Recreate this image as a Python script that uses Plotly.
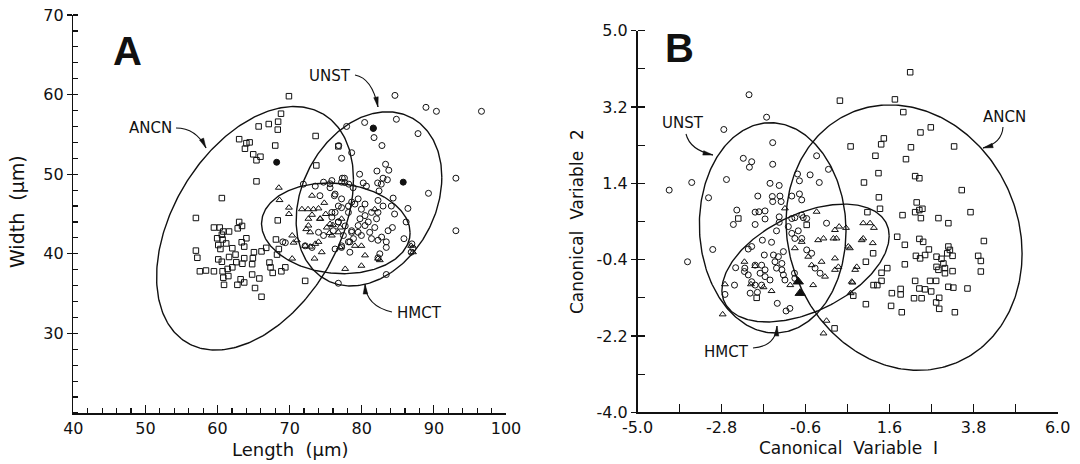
import numpy as np
import plotly.graph_objects as go

W, H = 1080, 464

# ---------------- Panel A : Length vs Width ----------------
A_ancn_x = [69.9, 68.8, 68.4, 68.35, 67.1, 65.7, 63.0, 64.0, 64.45, 63.8, 64.95, 65.95, 65.4, 68.0,
            65.4, 73.6, 73.7, 60.6, 57.0, 59.5, 60.3, 63.0, 63.4, 62.8, 61.6, 60.8, 60.6, 59.95,
            60.7, 61.2, 60.1, 62.05, 60.4, 63.35, 64.0, 63.7, 57.0, 57.2, 60.1, 60.6, 61.6, 62.5,
            62.6, 63.7, 63.45, 65.05, 64.9, 64.8, 66.1, 66.75, 62.05, 61.4, 60.7, 59.5, 58.4, 57.55,
            60.8, 61.5, 60.9, 62.75, 63.2, 63.7, 64.8, 65.8, 65.2, 66.1, 67.2, 67.35, 67.65, 68.85,
            69.4, 68.25, 68.5, 68.1, 68.35, 72.15, 76.75]
A_ancn_y = [59.8, 57.6, 56.6, 55.6, 56.3, 56.0, 54.4, 53.9, 54.0, 53.2, 52.5, 52.2, 51.75, 53.6,
            49.1, 54.8, 51.1, 47.0, 44.5, 43.3, 43.3, 44.0, 43.5, 43.2, 42.8, 42.8, 42.4, 41.95,
            41.8, 41.3, 41.1, 40.7, 40.6, 41.45, 41.95, 40.9, 40.4, 39.5, 39.3, 39.0, 39.6, 39.9,
            38.95, 39.45, 38.75, 40.2, 39.45, 38.7, 40.3, 40.75, 38.3, 38.1, 37.8, 37.8, 37.9, 37.8,
            37.0, 37.2, 36.1, 36.1, 36.8, 36.4, 37.4, 36.9, 35.7, 34.6, 38.9, 38.3, 37.6, 37.8,
            38.3, 39.9, 40.6, 41.8, 44.2, 36.6, 53.5]

A_unst_x = [84.6, 88.9, 90.35, 84.8, 80.4, 81.6, 81.7, 77.9, 87.8, 82.8, 76.8, 78.6, 77.2, 83.3,
            83.75, 82.1, 79.7, 93.05, 82.95, 83.55, 82.2, 82.7, 89.25, 82.4, 80.2, 80.65, 77.6,
            77.2, 75.6, 78.2, 84.35, 76.2, 96.6, 93.05,
            86.4, 84.55, 84.1, 86.15, 85.85, 84.25, 83.65, 83.4, 83.4, 82.75, 82.25, 82.5, 82.25,
            86.95, 87.1, 86.85, 83.4, 76.75, 81.35, 81.1, 81.8, 80.9, 82.05, 82.25, 81.35, 80.45,
            79.95, 79.05, 78.15, 77.2, 76.3, 75.85, 76.75, 77.7, 78.6, 79.5, 78.85, 78.15, 77.2,
            76.3, 78.35, 79.95, 80.45, 79.75, 82.95, 82.25,
            71.9, 73.55, 74.7, 75.85, 77.3, 77.65, 78.8, 75.6, 74.2, 76.3, 77.2, 76.75, 75.85,
            78.6, 79.5, 80.45, 78.15, 76.75, 76.05, 77.45, 78.6, 79.5, 78.35, 77.2, 74.7, 73.1,
            72.15, 74.0, 69.05, 69.4]
A_unst_y = [59.9, 58.4, 57.9, 56.9, 56.5, 55.8, 54.6, 56.0, 55.1, 53.6, 53.6, 52.7, 52.0, 51.25,
            50.5, 50.4, 50.0, 49.5, 49.5, 49.3, 48.9, 48.75, 47.6, 47.9, 48.9, 48.5, 49.5,
            49.0, 48.8, 48.75, 47.0, 47.3, 57.9, 42.9,
            45.7, 45.0, 46.0, 44.0, 41.9, 43.3, 42.9, 41.5, 40.8, 42.1, 41.7, 40.0, 39.5,
            41.25, 40.7, 40.2, 37.4, 36.3, 41.9, 42.7, 43.3, 44.0, 44.4, 45.2, 45.2, 44.8,
            45.6, 46.25, 46.0, 45.8, 45.2, 44.6, 44.0, 43.5, 42.9, 42.7, 41.9, 41.5, 40.8,
            40.6, 40.2, 42.3, 43.55, 44.4, 46.0, 46.7,
            48.75, 48.5, 49.0, 49.2, 49.5, 48.95, 48.3, 48.3, 47.3, 47.5, 46.9, 46.0, 45.2,
            46.5, 46.9, 46.25, 45.2, 44.0, 42.9, 42.3, 42.7, 43.55, 41.5, 41.0, 42.3, 40.8,
            41.0, 42.7, 41.5, 41.4]

A_hmct_x = [68.5, 68.6, 69.9, 69.9, 71.7, 72.55, 73.3, 74.0, 73.1, 72.6, 74.25, 72.3, 72.85, 70.35,
            71.0, 70.55, 72.15, 72.85, 73.55, 74.45, 73.45, 70.35, 79.95, 80.45, 81.8, 77.7,
            79.95, 82.5, 77.0, 75.85, 76.75, 77.2, 73.1, 74.2, 75.6, 75.15, 72.6, 74.0, 77.0,
            79.05, 82.25, 86.85, 87.1, 75.0, 76.0, 74.8, 75.5]
A_hmct_y = [48.3, 46.75, 45.8, 45.0, 45.6, 45.6, 45.6, 45.7, 44.9, 44.4, 44.4, 43.1, 42.7, 42.3,
            41.7, 41.4, 41.0, 40.9, 41.25, 40.2, 39.4, 39.4, 41.0, 39.8, 45.6, 38.1,
            38.5, 39.2, 40.8, 42.3, 42.7, 44.4, 47.3, 44.4, 43.75, 43.3, 43.55, 41.5, 43.3,
            41.0, 39.4, 41.0, 40.2, 45.0, 43.6, 46.4, 42.6]

A_dot_x = [68.2, 81.6, 85.75]
A_dot_y = [51.5, 55.75, 49.0]

# ellipses: centre x, centre y, x half-extent, y half-extent, correlation
A_ell_names = ["ANCN", "UNST", "HMCT"]
A_ell_cx = [65.2, 81.0, 76.4]
A_ell_cy = [43.2, 46.9, 43.2]
A_ell_sx = [13.65, 10.1, 10.3]
A_ell_sy = [15.3, 10.94, 5.7]
A_ell_r = [0.40, 0.25, -0.10]

A_xticks = [40, 50, 60, 70, 80, 90, 100]
A_xticktext = ["40", "50", "60", "70", "80", "90", "100"]
A_yticks = [30, 40, 50, 60, 70]
A_yticktext = ["30", "40", "50", "60", "70"]

# ---------------- Panel B : canonical variables ----------------
B_unst_x = [-2.08, -1.62, -2.74, -1.46, -2.23, -2.01, -2.07, -1.46, -0.31, 0.0, -0.48, -0.81, -0.76,
            -0.24, -2.67, -3.58, -4.17, -3.14, -1.53, -1.29, -1.85, -1.47, -1.27, -0.96, -0.76,
            -1.46, -1.24, -0.70, -3.69, -3.03,
            -2.40, -1.92, -1.82, -1.66, -2.49, -1.92, -1.66, -1.29, -1.29, -0.96, -0.88, -0.66,
            -0.57, -1.36, -1.05, -0.96, -0.79, -0.70, -0.88, -1.73, -2.01, -2.10, -1.49, -2.43,
            -2.46, -2.71, -2.05, -1.86, -1.34, -1.11, -1.01, -1.44, -1.31, -1.18, -1.40, -1.36,
            -1.22, -1.18, -1.14, -1.22, -1.92, -1.75, -1.66, -1.79, -1.66, -2.19, -2.20, -2.10,
            -1.92, -1.75, -2.01, -1.53, -1.68, -0.88, -0.89, -0.05, -0.44, -0.35, -0.22, -0.57,
            -0.70]
B_unst_y = [3.49, 2.96, 2.67, 2.36, 1.99, 1.91, 1.78, 1.85, 2.05, 1.73, 1.60, 1.62, 1.46,
            1.42, 1.49, 1.42, 1.24, 1.06, 1.40, 1.35, 1.10, 1.09, 1.10, 1.10, 1.15,
            0.97, 0.97, 1.01, -0.45, -0.16,
            0.77, 0.72, 0.73, 0.75, 0.43, 0.43, 0.56, 0.61, 0.48, 0.57, 0.59, 0.59,
            0.57, 0.28, 0.38, 0.22, 0.28, 0.10, 0.10, 0.06, -0.09, -0.15, 0.01, -0.59,
            -1.00, -1.22, -1.19, -1.17, -1.43, -1.61, -1.55, -0.29, -0.33, -0.21, -0.45, -0.60,
            -0.64, -0.76, -0.88, -0.49, -0.53, -0.53, -0.64, -0.72, -0.80, -0.60, -0.68, -0.76,
            -1.00, -1.00, -0.92, -0.88, -0.29, -0.84, -0.72, 0.46, -0.25, -0.60, -0.72, -0.17,
            0.65]

B_ancn_x = [2.14, 1.74, 0.30, 1.96, 2.41, 2.68, 1.45, 1.38, 0.58, 2.16, 3.29, 1.23, 2.03, 1.31,
            2.27, 2.38, 0.93, 3.49, 1.32, 2.31,
            1.35, 1.02, 1.94, 2.27, 2.38, 2.46, 2.42, 2.88, 3.14, 3.72, 1.80, 2.00, 2.38, 2.48,
            2.63, 2.53, 2.29, 2.40, 2.83, 2.96, 3.14, 3.18, 3.11, 3.25, 4.07, 3.92, 3.99, 3.99,
            2.00, 2.83, 2.88, 3.01, 3.05, 3.05, 3.25, 2.27, 2.66, 2.82, 3.14, 3.27, 3.64, 2.38,
            2.53, 2.69, 1.89, 1.66, 1.89, 2.24, 2.44, 2.90, 2.82, 2.90, 3.31, 1.92, 1.64, 0.98,
            1.17, 0.98, 1.39, 1.54, 1.39, 1.18, 1.28, 0.65, 0.16, -2.36, -0.57, -1.88]
B_ancn_y = [4.02, 3.38, 3.35, 3.08, 2.60, 2.72, 2.46, 2.32, 2.27, 2.25, 2.27, 2.05, 1.97, 1.64,
            1.57, 1.52, 1.42, 1.24, 1.07, 0.95,
            0.80, 0.72, 0.65, 0.72, 0.77, 0.80, 0.58, 0.58, 0.46, 0.72, 0.14, -0.05, 0.09, 0.02,
            -0.16, -0.29, -0.31, -0.37, -0.33, -0.38, -0.09, -0.17, -0.25, -0.31, 0.04, -0.31, -0.43, -0.68,
            -0.51, -0.57, -0.64, -0.49, -0.60, -0.72, -0.67, -0.90, -0.90, -0.90, -1.04, -1.06, -1.08, -1.08,
            -1.10, -1.15, -1.09, -1.19, -1.22, -1.31, -1.31, -1.30, -1.41, -1.56, -1.64, -1.64, -1.49, -1.45,
            -0.25, -0.45, -0.71, -0.60, -0.90, -1.00, -1.00, -1.25, -2.02, 0.57, 0.42, -1.30]

B_hmct_x = [-2.77, -2.71, -1.92, -2.03, -1.49, -1.14, -0.31, -0.27, -0.13, -0.70, -0.88, -0.13,
            -0.44, -0.40, -0.09, -0.18, -0.53, 0.91, 1.09, 1.19, 1.16, 0.91, 0.87, 0.56, 0.74,
            0.70, 0.63, 0.58, 0.28, 0.46, 0.17, 0.13, 0.21, 0.17, 0.26, 0.17, 0.52, -0.05, 0.61,
            -2.20, -1.70, -1.00]
B_hmct_y = [-1.69, -0.98, -0.55, -0.98, -1.14, 0.81, 0.73, 0.06, 0.10, 0.02, -0.13, -2.14,
            -0.53, -1.00, -0.80, -0.45, -0.33, 0.46, 0.46, 0.35, -0.01, 0.10, 0.06, -0.13, -0.57,
            -0.64, -0.94, -1.19, 0.38, 0.35, 0.30, 0.10, 0.10, -0.37, -0.57, -0.64, -0.09, -1.84, -0.92,
            -0.45, -1.05, -1.00]

B_big_x = [-0.79, -0.74]
B_big_y = [-0.92, -1.19]

B_ell_names = ["ANCN", "UNST", "HMCT"]
B_ell_cx = [1.98, -1.46, -0.60]
B_ell_cy = [0.12, 0.35, -0.48]
B_ell_sx = [3.09, 1.92, 2.19]
B_ell_sy = [3.13, 2.48, 1.39]
B_ell_r = [-0.12, -0.03, 0.46]

B_xticks = [-5.0, -2.8, -0.6, 1.6, 3.8, 6.0]
B_xticktext = ["-5.0", "-2.8", "-0.6", "1.6", "3.8", "6.0"]
B_yticks = [-4.0, -2.2, -0.4, 1.4, 3.2, 5.0]
B_yticktext = ["-4.0", "-2.2", "-0.4", "1.4", "3.2", "5.0"]

INK = "#111111"
FONT = "DejaVu Sans"


def ellipse(cx, cy, sx, sy, r, n=300):
    t = np.linspace(0, 2 * np.pi, n)
    x = cx + sx * np.cos(t)
    y = cy + sy * (r * np.cos(t) + np.sqrt(1 - r * r) * np.sin(t))
    return x, y


fig = go.Figure()


def pts(x, y, sym, size, xa, ya, lw=1.0, color=INK):
    fig.add_trace(go.Scatter(x=x, y=y, mode="markers", xaxis=xa, yaxis=ya,
                             marker=dict(symbol=sym, size=size, color=color,
                                         line=dict(width=lw, color=INK)),
                             showlegend=False, hoverinfo="skip"))


pts(A_ancn_x, A_ancn_y, "square-open", 5.5, "x", "y")
pts(A_unst_x, A_unst_y, "circle-open", 6, "x", "y")
pts(A_hmct_x, A_hmct_y, "triangle-up-open", 6, "x", "y")
pts(A_dot_x, A_dot_y, "circle", 6, "x", "y")

pts(B_ancn_x, B_ancn_y, "square-open", 5.5, "x2", "y2")
pts(B_unst_x, B_unst_y, "circle-open", 6, "x2", "y2")
pts(B_hmct_x, B_hmct_y, "triangle-up-open", 6, "x2", "y2")
pts(B_big_x, B_big_y, "triangle-up", 9, "x2", "y2")

for i in range(3):
    ex, ey = ellipse(A_ell_cx[i], A_ell_cy[i], A_ell_sx[i], A_ell_sy[i], A_ell_r[i])
    fig.add_trace(go.Scatter(x=ex, y=ey, mode="lines", xaxis="x", yaxis="y",
                             line=dict(color=INK, width=1.4), showlegend=False, hoverinfo="skip"))
    ex, ey = ellipse(B_ell_cx[i], B_ell_cy[i], B_ell_sx[i], B_ell_sy[i], B_ell_r[i])
    fig.add_trace(go.Scatter(x=ex, y=ey, mode="lines", xaxis="x2", yaxis="y2",
                             line=dict(color=INK, width=1.4), showlegend=False, hoverinfo="skip"))


def px(v):
    return v / W


def py(v):
    return 1 - v / H


tickfont = dict(family=FONT, size=16, color=INK)
common = dict(showline=True, linecolor=INK, linewidth=1.5, showgrid=False, zeroline=False,
              tickcolor=INK, tickwidth=1.2, tickfont=tickfont, automargin=False, fixedrange=True)

fig.update_layout(
    width=W, height=H, autosize=False,
    margin=dict(l=0, r=0, t=0, b=0, pad=0),
    paper_bgcolor="white", plot_bgcolor="white",
    xaxis=dict(domain=[px(73.3), px(506)], range=[40, 100], anchor="y",
               tickmode="array", tickvals=A_xticks, ticktext=A_xticktext,
               ticks="inside", ticklen=8,
               minor=dict(dtick=2, tick0=40, ticks="inside", ticklen=5, tickcolor=INK, showgrid=False),
               **common),
    yaxis=dict(domain=[py(413), py(15)], range=[20, 70], anchor="x",
               tickmode="array", tickvals=A_yticks, ticktext=A_yticktext,
               ticks="outside", ticklen=5,
               minor=dict(dtick=2, tick0=20, ticks="inside", ticklen=5, tickcolor=INK, showgrid=False),
               **common),
    xaxis2=dict(domain=[px(637.5), px(1057.6)], range=[-5, 6], anchor="y2",
                tickmode="array", tickvals=B_xticks, ticktext=B_xticktext,
                ticks="inside", ticklen=8,
                minor=dict(dtick=1.1, tick0=-5, ticks="inside", ticklen=8, tickcolor=INK, showgrid=False),
                **common),
    yaxis2=dict(domain=[py(412.3), py(30.7)], range=[-4, 5], anchor="x2",
                tickmode="array", tickvals=B_yticks, ticktext=B_yticktext,
                ticks="outside", ticklen=5,
                minor=dict(dtick=0.9, tick0=-4, ticks="inside", ticklen=7, tickcolor=INK, showgrid=False),
                **common),
)


def text(x, y, s, size=16, angle=0, family=FONT):
    fig.add_annotation(x=px(x), y=py(y), xref="paper", yref="paper", text=s, showarrow=False,
                       textangle=angle, xanchor="center", yanchor="middle",
                       font=dict(family=family, size=size, color=INK))


# axis titles
text(290, 449, "Length\u00a0 (\u03bcm)", 18)
text(17, 212, "Width\u00a0 (\u03bcm)", 19, angle=-90)
text(848, 448, "Canonical\u00a0 Variable\u00a0 I", 17)
text(577, 222, "Canonical\u00a0 Variable\u00a0 2", 17, angle=-90)

# panel letters
text(127, 51, "<b>A</b>", 40, family="Liberation Sans")
text(679, 48, "<b>B</b>", 40, family="Liberation Sans")

# group labels
text(150, 128, "ANCN", 15)
text(330, 76, "UNST", 15)
text(419, 313, "HMCT", 15)
text(683, 123, "UNST", 15)
text(1004, 117, "ANCN", 15)
text(726, 352, "HMCT", 15)


def leader(p0, c, p1):
    path = "M {} {} Q {} {} {} {}".format(px(p0[0]), py(p0[1]), px(c[0]), py(c[1]),
                                          px(p1[0]), py(p1[1]))
    fig.add_shape(type="path", path=path, xref="paper", yref="paper",
                  line=dict(color=INK, width=1.1))
    d = np.array(p1, float) - np.array(c, float)
    d /= np.hypot(*d)
    n = np.array([-d[1], d[0]])
    tip = np.array(p1, float)
    base = tip - 10 * d
    a = base + 2.3 * n
    b = base - 2.3 * n
    path2 = "M {} {} L {} {} L {} {} Z".format(px(tip[0]), py(tip[1]), px(a[0]), py(a[1]),
                                               px(b[0]), py(b[1]))
    fig.add_shape(type="path", path=path2, xref="paper", yref="paper",
                  line=dict(color=INK, width=0.5), fillcolor=INK)


leader((176, 128), (196, 128), (206, 148))
leader((355, 75), (372, 78), (378, 107))
leader((392, 312), (366, 306), (365, 284))
leader((686, 134), (690, 150), (713, 155))
leader((1003, 127), (1002, 143), (983, 148))
leader((753, 348), (776, 346), (777, 326))

# remove the browser's default page margin so the 1080x464 figure fills the window
fig.write_html("out.html",
               config={"displayModeBar": False, "staticPlot": True},
               post_script="document.body.style.margin='0';document.body.style.padding='0';"
                           "document.documentElement.style.overflow='hidden';")
